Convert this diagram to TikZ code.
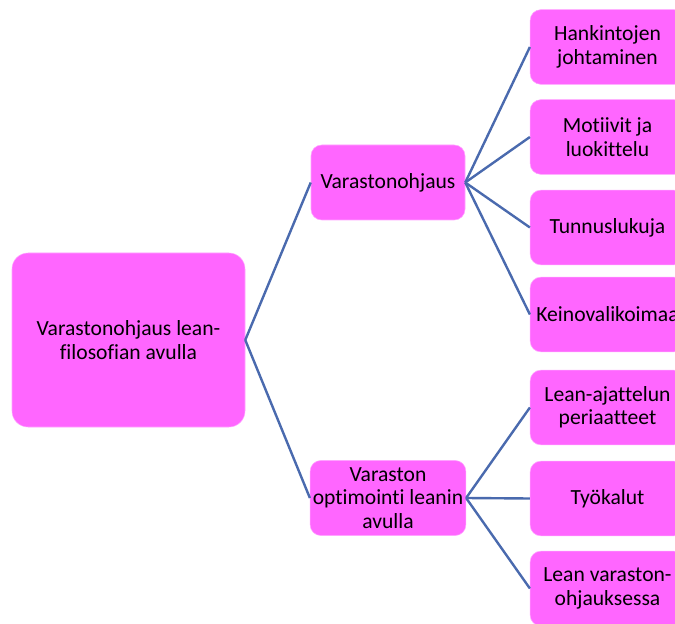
\documentclass[tikz,border=0pt]{standalone}
\usepackage{fontspec}
\setmainfont{Carlito}[RawFeature=-liga]
\usepackage{xcolor}
\definecolor{laatikko}{HTML}{FF66FF}
\definecolor{viiva}{HTML}{4A6AAE}
\tikzset{
  laatikko/.style={fill=laatikko, draw=laatikko!60!white, rounded corners=8pt, align=center,
    font=\fontsize{16.2}{17.5}\selectfont, inner sep=2pt},
  yhteys/.style={draw=viiva, line width=1.8pt}
}

\begin{document}
\begin{tikzpicture}[x=0.75pt,y=-0.75pt]
\useasboundingbox (0,0) rectangle (675,624);
\clip (0,0) rectangle (675,624);
\node [laatikko, rounded corners=12pt, minimum width=174.75pt, minimum height=130.5pt] (juuri) at (128.5,340) {Varastonohjaus lean-\\filosofian avulla};
\node [laatikko, minimum width=115.5pt, minimum height=56.25pt] (ohjaus) at (388,182.5) {Varastonohjaus};
\node [laatikko, minimum width=115.5pt, minimum height=56.25pt] (optim) at (388,498) {Varaston\\optimointi leanin\\avulla};
\node [laatikko, minimum width=116pt, minimum height=56pt] (hank) at (607.5,47) {Hankintojen\\johtaminen};
\node [laatikko, minimum width=116pt, minimum height=56pt] (motiivit) at (607.5,137) {Motiivit ja\\luokittelu};
\node [laatikko, minimum width=116pt, minimum height=56pt] (tunnus) at (607.5,227.5) {Tunnuslukuja};
\node [laatikko, minimum width=116pt, minimum height=56pt] (keino) at (607.5,314.5) {Keinovalikoimaa};
\node [laatikko, minimum width=116pt, minimum height=56pt] (periaat) at (607.5,407.5) {Lean-ajattelun\\periaatteet};
\node [laatikko, minimum width=116pt, minimum height=56pt] (tyokalut) at (607.5,498.5) {Työkalut};
\node [laatikko, minimum width=116pt, minimum height=56pt] (leanvar) at (607.5,588.5) {Lean varaston-\\ohjauksessa};
\draw [yhteys] (juuri.east) -- (ohjaus.west);
\draw [yhteys] (juuri.east) -- (optim.west);
\foreach \k in {hank,motiivit,tunnus,keino}
  \draw [yhteys] (ohjaus.east) -- (\k.west);
\foreach \k in {periaat,tyokalut,leanvar}
  \draw [yhteys] (optim.east) -- (\k.west);
\end{tikzpicture}
\end{document}
